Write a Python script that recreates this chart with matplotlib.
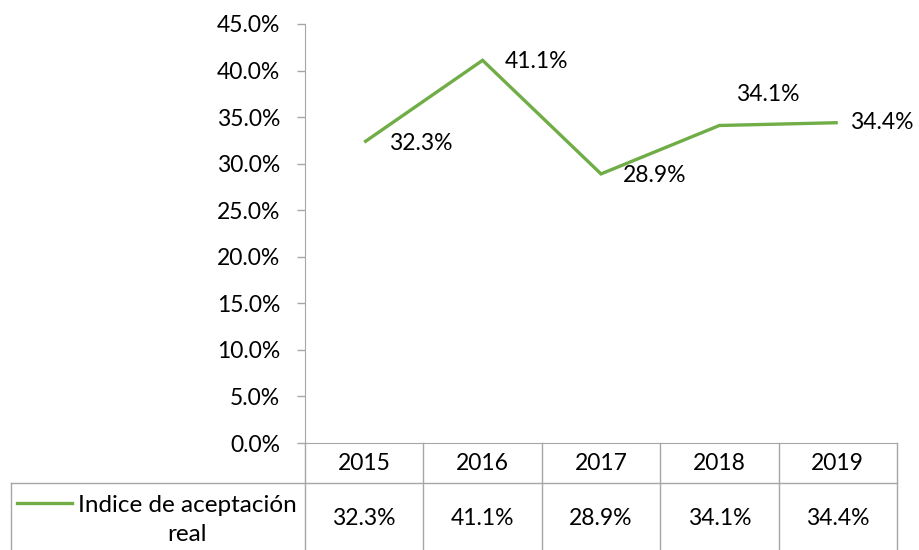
import matplotlib
matplotlib.use("Agg")
import matplotlib.pyplot as plt
from matplotlib.lines import Line2D

years = ["2015", "2016", "2017", "2018", "2019"]
values = [32.3, 41.1, 28.9, 34.1, 34.4]
series_name = "Indice de aceptación\nreal"
yticks = [0, 5, 10, 15, 20, 25, 30, 35, 40, 45]

plt.rcParams['font.family'] = ['Lato', 'DejaVu Sans']
GREEN = "#70AD47"
GRID = "#A6A6A6"
FS = 16.5

W, H = 920, 550
fig = plt.figure(figsize=(W / 100, H / 100), dpi=100)

def fx(px):
    return px / W

def fy(py):
    return 1 - py / H

ax_l, ax_r, ax_t, ax_b = 305, 897, 24, 443
ax = fig.add_axes([fx(ax_l), fy(ax_b), fx(ax_r) - fx(ax_l), fy(ax_t) - fy(ax_b)])
x = list(range(len(years)))
ax.plot(x, values, color=GREEN, lw=2.4, solid_capstyle='butt', solid_joinstyle='miter')
ax.set_xlim(-0.5, len(years) - 0.5)
ax.set_ylim(0, 45)
ax.set_yticks(yticks)
ax.set_yticklabels([f"{v:.1f}%" for v in yticks], fontsize=FS)
ax.tick_params(axis='y', length=6, width=1, color=GRID, pad=12, direction='out')
ax.set_xticks([])
for s in ['top', 'right']:
    ax.spines[s].set_visible(False)
ax.spines['left'].set_color(GRID)
ax.spines['bottom'].set_color(GRID)
ax.patch.set_alpha(0)

offsets = [(18, -1), (16, -1), (16, -1), (12, 22), (9, 0)]
for xi, v, (dx, dy) in zip(x, values, offsets):
    ax.annotate(f"{v:.1f}%", (xi, v), xytext=(dx, dy), textcoords='offset points',
                ha='left', va='center', fontsize=FS, color='black',
                annotation_clip=False)

# data table
row1_b, row2_b = 483, 550
colw = (ax_r - ax_l) / len(years)
lines = []
lines.append(([fx(ax_l), fx(ax_r)], [fy(row1_b), fy(row1_b)]))
lines.append(([fx(11), fx(ax_l)], [fy(row1_b), fy(row1_b)]))
lines.append(([fx(11), fx(11)], [fy(row1_b), fy(row2_b)]))
for i in range(len(years) + 1):
    xx = ax_l + i * colw
    lines.append(([fx(xx), fx(xx)], [fy(ax_b), fy(row2_b)]))
for xs, ys in lines:
    fig.add_artist(Line2D(xs, ys, color=GRID, lw=1, transform=fig.transFigure))

for i, (yr, v) in enumerate(zip(years, values)):
    cx = ax_l + (i + 0.5) * colw
    fig.text(fx(cx), fy((ax_b + row1_b) / 2 + 1), yr, ha='center', va='center', fontsize=FS)
    fig.text(fx(cx), fy((row1_b + row2_b) / 2 + 2), f"{v:.1f}%", ha='center', va='center', fontsize=FS)

fig.add_artist(Line2D([fx(17), fx(72)], [fy(503), fy(503)], color=GREEN, lw=2.4,
                      transform=fig.transFigure))
fig.text(fx(187), fy(520), series_name, ha='center', va='center', fontsize=17.5,
         linespacing=1.5)

fig.savefig("out.png", dpi=100)
